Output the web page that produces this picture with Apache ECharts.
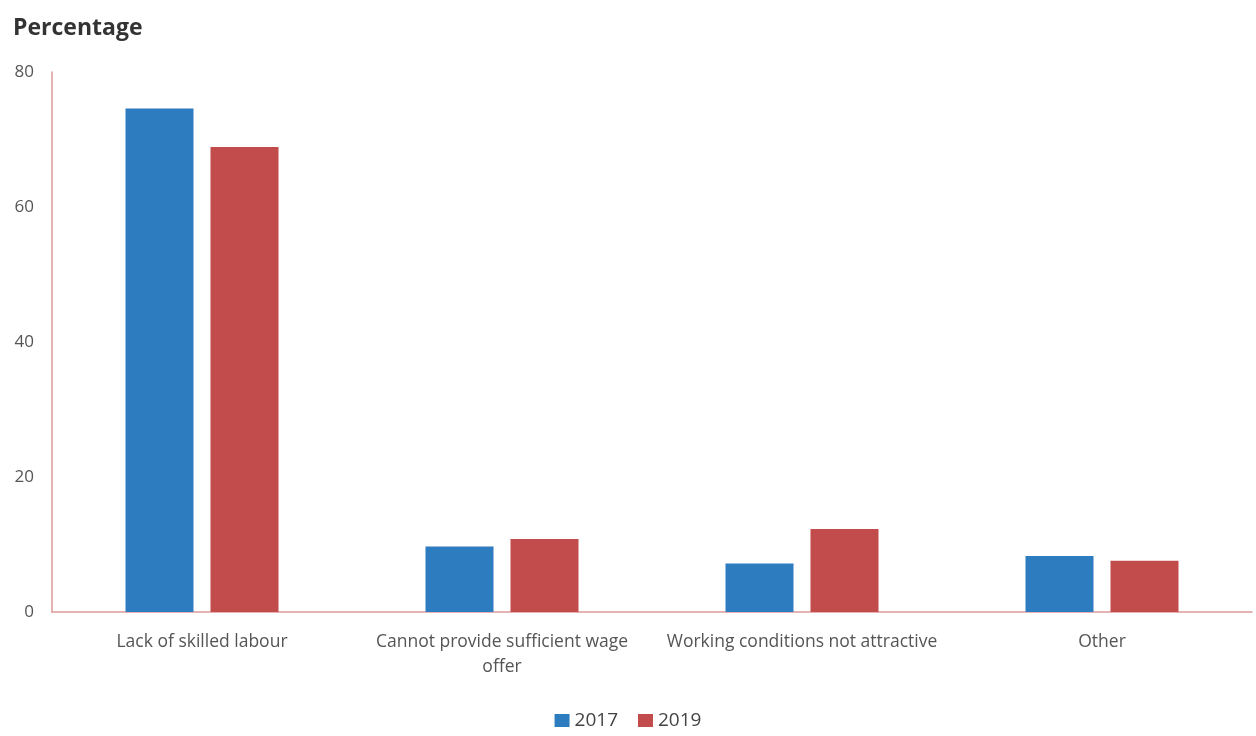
<!DOCTYPE html>
<html><head><meta charset="utf-8">
<script src="https://cdn.jsdelivr.net/npm/echarts@6/dist/echarts.min.js"></script>
<style>html,body{margin:0;padding:0;background:#fff}#c{width:1256px;height:736px}</style>
</head><body><div id="c"></div>
<script>
const categories = ['Lack of skilled labour', 'Cannot provide sufficient wage\noffer', 'Working conditions not attractive', 'Other'];
const values2017 = [74.6, 9.7, 7.2, 8.3];
const values2019 = [68.9, 10.8, 12.3, 7.6];
const seriesNames = ['2017', '2019'];
const yTicks = [0, 20, 40, 60, 80];

const chart = echarts.init(document.getElementById('c'));
chart.setOption({
  animation: false,
  backgroundColor: '#fff',
  title: { text: 'Percentage', left: 8, top: 12, textStyle: { fontFamily: 'Open Sans', fontWeight: 'bold', fontSize: 23, color: '#333' } },
  legend: { bottom: 1, left: 'center', itemWidth: 15, itemHeight: 13, itemGap: 20, icon: 'rect',
    textStyle: { fontFamily: 'Open Sans', fontSize: 19, color: '#444' }, data: seriesNames },
  grid: { left: 52, right: 4, top: 72, bottom: 124 },
  xAxis: { type: 'category', data: categories,
    axisLine: { lineStyle: { color: '#dd9a98', width: 1.5 } },
    axisTick: { show: false },
    axisLabel: { interval: 0, fontFamily: 'Open Sans', fontSize: 17.5, color: '#555', margin: 18, lineHeight: 25 } },
  yAxis: { type: 'value', min: yTicks[0], max: yTicks[yTicks.length - 1], interval: 20,
    axisLine: { show: true, lineStyle: { color: '#dd9a98', width: 1.5 } },
    axisTick: { show: false }, splitLine: { show: false },
    axisLabel: { fontFamily: 'Open Sans', fontSize: 17, color: '#555', margin: 18 } },
  series: [
    { name: seriesNames[0], type: 'bar', data: values2017, barWidth: 68, barGap: '25%', itemStyle: { color: '#2e7cc0' } },
    { name: seriesNames[1], type: 'bar', data: values2019, barWidth: 68, itemStyle: { color: '#c24b4b' } }
  ]
});
</script></body></html>
